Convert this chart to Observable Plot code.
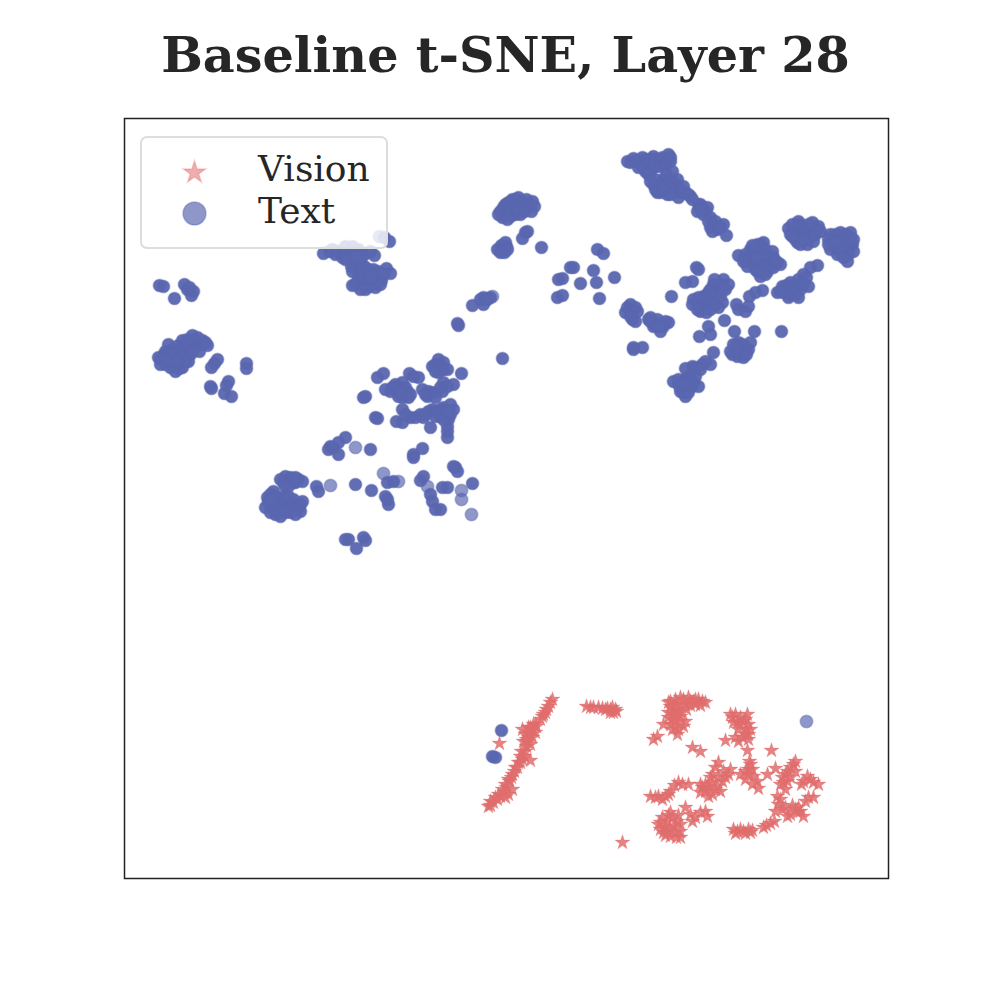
<!DOCTYPE html>
<html><head><meta charset="utf-8">
<script src="https://cdn.jsdelivr.net/npm/d3@7"></script>
<script src="https://cdn.jsdelivr.net/npm/@observablehq/plot@0.6"></script>
<style>
html,body{margin:0;padding:0;background:#fff}
#wrap{position:relative;width:987px;height:987px;overflow:hidden}
#title{height:100px;box-sizing:border-box;padding-top:25px;margin-left:24px;text-align:center;font:bold 49.3px "DejaVu Serif";color:#262626;line-height:60px;white-space:nowrap}
#legend{position:absolute;left:140px;top:136px;width:248px;height:113px;box-sizing:border-box;border:2px solid #dddddd;border-radius:7px;background:rgba(255,255,255,.8);font:36px "DejaVu Serif";color:#262626}
#legend svg{position:absolute;left:-1px;top:-2px}
#legend span{position:absolute;left:116px;line-height:40px;white-space:nowrap}
svg{display:block}
</style></head><body><div id="wrap"><div id="title"></div><div id="plot"></div><div id="legend"></div></div>
<script>
const chartTitle = "Baseline t-SNE, Layer 28";
const seriesNames = ["Vision", "Text"];
const seriesColors = ["#e06c6c", "#5a66b0"];
const xRange = [124, 888];
const yRange = [879, 119];
const textLone = [[355,448],[330,486],[383,474],[398,482],[427,487],[461,491],[461,500],[471,515],[806,722],[379,237],[492,297]];
const textPoints = [
[159,286],[163,287],[174,299],[184,285],[187,290],[193,292],[191,296],[189,288],
[160,360],[165,352],[168,345],[172,350],[178,346],[165,365],[170,368],[175,372],[182,368],[188,362],[190,355],[185,350],[178,358],[172,360],[163,356],[179,369],[182,341],[192,336],[202,341],[207,346],[197,346],[189,346],[199,352],
[158,358],[160,365],[168,358],[175,352],[182,358],[185,362],[175,365],[180,352],[190,348],[195,342],[200,345],[185,345],[170,355],[166,361],[177,362],[192,352],[205,343],[187,340],[197,338],
[214,364],[211,368],[217,360],[210,387],[211,389],[228,382],[226,386],[224,394],[231,397],[246,364],[246,369],
[329,252],[335,255],[342,258],[350,252],[358,250],[352,247],[364,255],[374,256],[389,242],[384,238],[351,267],[357,268],[364,267],[352,261],[360,262],[357,282],[367,277],[374,280],[380,277],[386,269],[390,274],[370,285],[369,287],[362,285],[376,284],[365,282],[372,275],[381,281],
[323,254],[332,250],[338,252],[345,254],[355,255],[360,258],[345,260],[370,252],[352,272],[358,275],[363,272],[368,270],[362,278],[355,285],[373,270],[378,272],[383,275],[365,290],[375,288],[380,285],[360,290],[352,286],[345,247],[356,258],[370,278],
[500,212],[505,205],[512,200],[518,198],[526,200],[532,202],[531,212],[520,210],[512,212],[505,215],[502,218],[515,205],[525,207],[510,217],
[503,208],[508,203],[515,200],[522,203],[528,205],[520,215],[515,215],[508,210],[498,215],[507,220],[516,210],[524,212],[534,207],[501,246],[506,247],[503,250],
[525,233],[522,239],[527,232],[502,248],[497,250],[505,243],[504,253],[500,253],[507,250],[541,248],
[597,250],[603,254],[573,268],[570,268],[558,280],[562,279],[593,271],[580,284],[596,283],[614,278],[557,298],[562,296],[599,299],
[483,298],[490,298],[472,306],[483,305],[480,300],[487,300],[458,326],[457,324],[502,359],
[630,163],[633,159],[642,158],[653,157],[668,155],[665,160],[657,163],[647,165],[640,165],[645,172],[652,168],[660,160],[670,162],[672,172],
[627,162],[636,161],[645,160],[650,160],[655,160],[662,158],[638,168],[643,168],[650,172],[655,167],[660,167],[665,165],[670,158],[648,175],
[657,187],[663,180],[670,188],[660,193],[667,195],[677,180],[678,188],[653,185],[665,188],[673,183],[657,193],[685,193],[690,197],[678,198],
[655,180],[660,185],[665,185],[668,180],[672,190],[655,190],[662,190],[675,192],[680,193],[670,195],[683,187],[688,195],[650,182],[666,175],
[702,208],[707,208],[697,212],[710,218],[713,225],[710,228],[723,225],[717,230],[726,236],[698,205],
[700,205],[705,212],[703,215],[708,222],[715,222],[712,232],[720,228],[692,200],[700,210],
[788,229],[798,222],[812,223],[817,230],[807,230],[800,233],[807,245],[813,242],[797,243],[802,237],[792,237],[810,237],[818,227],
[790,235],[795,228],[800,225],[805,235],[812,228],[795,240],[800,245],[805,240],[815,235],[792,225],[803,240],[808,225],[820,232],
[830,235],[840,233],[850,238],[852,245],[843,247],[830,250],[837,255],[847,262],[853,252],[837,240],[845,242],[850,233],
[835,235],[845,235],[840,240],[835,247],[845,250],[828,240],[848,255],[840,252],[853,240],[843,258],[828,245],[835,242],
[757,245],[750,250],[763,243],[738,256],[747,267],[753,255],[763,257],[772,252],[777,263],[770,267],[760,277],[767,272],[780,265],[758,263],[752,263],[773,258],
[745,255],[755,250],[760,250],[765,250],[768,262],[755,270],[745,260],[765,275],[773,268],[762,268],[755,258],[770,258],[760,245],[752,246],[757,272],[775,262],[743,262],
[817,266],[810,268],[803,275],[808,287],[798,280],[790,283],[782,287],[777,293],[788,298],[798,298],[793,290],[783,293],[762,291],[755,293],[749,297],
[795,285],[785,290],[790,295],[800,290],[795,295],[806,278],[786,286],[780,292],[803,285],[790,288],
[723,280],[728,285],[713,285],[708,293],[693,300],[698,305],[703,297],[717,293],[722,303],[710,310],[700,312],[718,308],[705,303],[712,302],
[710,290],[716,288],[720,285],[705,298],[712,295],[698,298],[692,305],[703,308],[708,305],[715,305],[722,290],[697,310],[720,297],[706,313],[725,290],[714,280],
[696,268],[698,270],[685,283],[692,282],[671,297],[736,305],[738,310],[745,312],[748,307],[724,321],[734,332],[754,332],[781,332],[708,327],[699,337],[710,335],
[738,343],[750,343],[745,348],[732,355],[737,357],[743,358],[740,350],[735,347],[742,345],[730,352],[738,352],[748,350],[746,355],[733,345],
[630,305],[625,313],[637,312],[632,320],[630,310],[650,322],[657,320],[668,323],[660,332],[663,327],[653,327],[648,320],[633,348],[642,348],[633,350],
[627,308],[635,308],[630,317],[635,322],[655,325],[660,325],[665,322],[658,327],[650,318],
[713,353],[710,365],[702,365],[692,367],[685,369],[673,382],[687,378],[693,383],[698,387],[683,393],[680,388],[690,388],[685,397],[682,383],
[678,385],[685,380],[690,378],[695,377],[685,390],[680,392],[678,380],[688,393],[692,385],[695,368],[705,362],[700,370],[683,385],
[365,397],[363,398],[377,378],[383,374],[375,418],[377,419],[397,387],[390,392],[402,383],[407,392],[398,397],[408,398],[397,392],[409,374],[418,378],[413,377],
[395,385],[400,390],[405,388],[392,388],[402,398],[410,395],[400,393],[385,390],
[432,367],[438,360],[443,363],[447,370],[438,373],[461,374],[422,390],[430,393],[427,397],[442,392],[443,383],[453,385],
[435,365],[440,367],[435,372],[443,370],[428,392],[425,395],[435,393],[440,388],[447,387],[435,398],
[402,410],[396,422],[402,423],[410,418],[423,418],[432,410],[443,408],[450,415],[440,417],[453,410],[430,428],[447,427],[447,438],
[405,415],[415,418],[420,415],[428,412],[435,412],[445,415],[440,410],[448,420],[447,432],[425,415],[435,417],[450,405],[443,420],[447,412],
[345,438],[338,443],[330,447],[328,450],[338,455],[333,448],[370,450],[413,455],[422,449],[413,458],
[290,478],[298,480],[283,482],[293,483],[302,482],[273,492],[267,498],[265,508],[270,513],[280,517],[290,513],[300,512],[302,502],[293,500],[283,497],[277,503],[287,507],[273,507],
[270,495],[275,497],[280,500],[285,502],[290,505],[295,505],[300,505],[268,503],[275,510],[282,510],[290,508],[297,510],[285,513],[275,515],[295,515],[270,500],[288,497],
[285,477],[287,482],[292,480],[295,483],[280,480],[288,487],[284,486],[295,478],
[316,487],[318,492],[355,485],[371,491],[387,483],[393,482],[385,497],[388,505],[387,500],[423,477],[420,481],[455,468],[457,472],[453,467],[472,484],
[442,488],[447,488],[430,495],[432,502],[435,510],[440,510],[348,540],[363,538],[356,549],[365,541],[345,540],
[501,731],[492,757],[495,758]
];
const visionPoints = [
[552,700],[548,707],[545,713],[542,717],[533,725],[528,728],[522,730],[530,735],[527,743],[525,752],[518,763],[512,775],[505,785],[508,795],[498,795],[490,802],[488,807],[530,761],[499,744],[535,733],[523,742],[520,757],[515,768],[508,780],[502,790],[495,798],
[550,703],[546,710],[543,715],[540,720],[536,727],[532,730],[528,733],[525,735],[532,738],[528,738],[526,747],[530,745],[524,757],[522,760],[520,763],[517,768],[514,772],[511,778],[509,782],[506,788],[504,793],[500,797],[497,800],[493,803],[490,806],[512,790],[505,798],[521,752],[526,740],[530,728],[535,725],
[586,707],[593,708],[602,709],[610,710],[615,710],[613,713],[607,709],[590,708],[598,708],[605,710],[612,708],[610,713],[616,712],[622,843],
[670,702],[680,698],[690,702],[702,702],[673,710],[672,720],[675,728],[677,735],[683,727],[668,713],[695,705],[685,705],[680,717],[663,725],[653,740],[657,737],[692,748],[700,752],
[675,700],[683,700],[688,698],[693,702],[698,700],[670,707],[675,705],[680,706],[690,706],[700,706],[668,703],[677,712],[673,715],[680,712],[670,725],[675,722],[680,722],[672,730],[678,730],[685,722],[676,715],[686,710],[695,700],[705,703],[668,718],
[732,718],[747,715],[737,723],[745,730],[748,735],[725,741],[735,738],[743,722],[742,738],
[735,715],[740,718],[745,720],[733,723],[740,725],[748,725],[750,730],[745,735],[738,730],[730,715],[748,740],[738,742],
[747,751],[771,751],[749,762],[748,770],[740,775],[753,777],[752,785],[758,789],[745,772],[748,775],[752,770],[745,780],[757,782],[750,765],
[718,763],[723,772],[728,775],[710,778],[708,788],[717,787],[702,788],[708,797],[720,792],
[715,768],[712,775],[705,785],[712,783],[705,792],[715,790],[712,795],[700,793],[722,782],[725,778],[718,778],[730,770],[700,785],
[767,775],[775,769],[793,765],[787,772],[782,778],[787,782],[807,777],[813,783],[801,785],[818,785],
[790,768],[785,775],[790,778],[795,762],[783,783],[785,790],[780,785],[795,772],[810,780],[803,782],
[777,797],[778,805],[775,812],[787,817],[797,813],[803,817],[813,798],[805,802],[798,808],[770,824],[763,828],[737,832],[743,832],[750,833],
[780,800],[782,810],[790,815],[795,810],[792,806],[800,812],[785,808],[808,798],[740,830],[735,834],[745,834],[752,831],[748,830],[733,830],[766,826],[774,822],
[650,797],[662,800],[668,795],[678,783],[688,785],[685,808],[700,813],[707,817],[692,822],[655,798],[658,797],[665,797],[670,792],[682,785],[674,786],
[670,813],[658,825],[667,822],[677,822],[663,833],[670,837],[680,838],[673,827],[665,828],
[662,818],[668,816],[672,818],[678,816],[680,825],[660,830],[665,836],[675,833],[670,829],[676,838],[660,823],[667,833],[680,832],[690,815],[695,818],[705,812]
];
const toRows = pts => pts.map(([x, y]) => ({x, y}));

document.getElementById("title").textContent = chartTitle;

const chart = Plot.plot({
  width: 987, height: 887,
  marginTop: 18, marginLeft: 124, marginRight: 99, marginBottom: 109,
  x: {domain: xRange, axis: null},
  y: {domain: yRange, axis: null},
  style: {background: "#fff"},
  marks: [
    Plot.dot(toRows(textLone), {x: "x", y: "y", r: 6.3, fill: seriesColors[1], fillOpacity: 0.68, stroke: seriesColors[1], strokeOpacity: 0.4, strokeWidth: 1.6}),
    Plot.dot(toRows(textPoints), {x: "x", y: "y", r: 6.3, fill: seriesColors[1], fillOpacity: 0.95, stroke: seriesColors[1], strokeOpacity: 0.35, strokeWidth: 1.6}),
    Plot.dot(toRows(visionPoints), {x: "x", y: "y", r: 4.7, symbol: "star", fill: seriesColors[0], fillOpacity: 0.85, stroke: seriesColors[0], strokeOpacity: 0.35, strokeWidth: 0.8}),
    Plot.frame({stroke: "#222", strokeWidth: 1.5})
  ]
});
document.getElementById("plot").appendChild(chart);

const legend = document.getElementById("legend");
const key = Plot.plot({
  width: 100, height: 110, margin: 0,
  x: {domain: [0, 100], axis: null},
  y: {domain: [110, 0], axis: null},
  marks: [
    Plot.dot([{x: 53, y: 36}], {x: "x", y: "y", r: 7, symbol: "star", fill: seriesColors[0], fillOpacity: 0.55, stroke: seriesColors[0], strokeOpacity: 0.3}),
    Plot.dot([{x: 53, y: 77}], {x: "x", y: "y", r: 11.5, fill: seriesColors[1], fillOpacity: 0.68, stroke: seriesColors[1], strokeOpacity: 0.4})
  ]
});
legend.appendChild(key);
seriesNames.forEach((n, i) => {
  const s = document.createElement("span");
  s.textContent = n;
  s.style.top = (11 + i * 42) + "px";
  legend.appendChild(s);
});
</script></body></html>
